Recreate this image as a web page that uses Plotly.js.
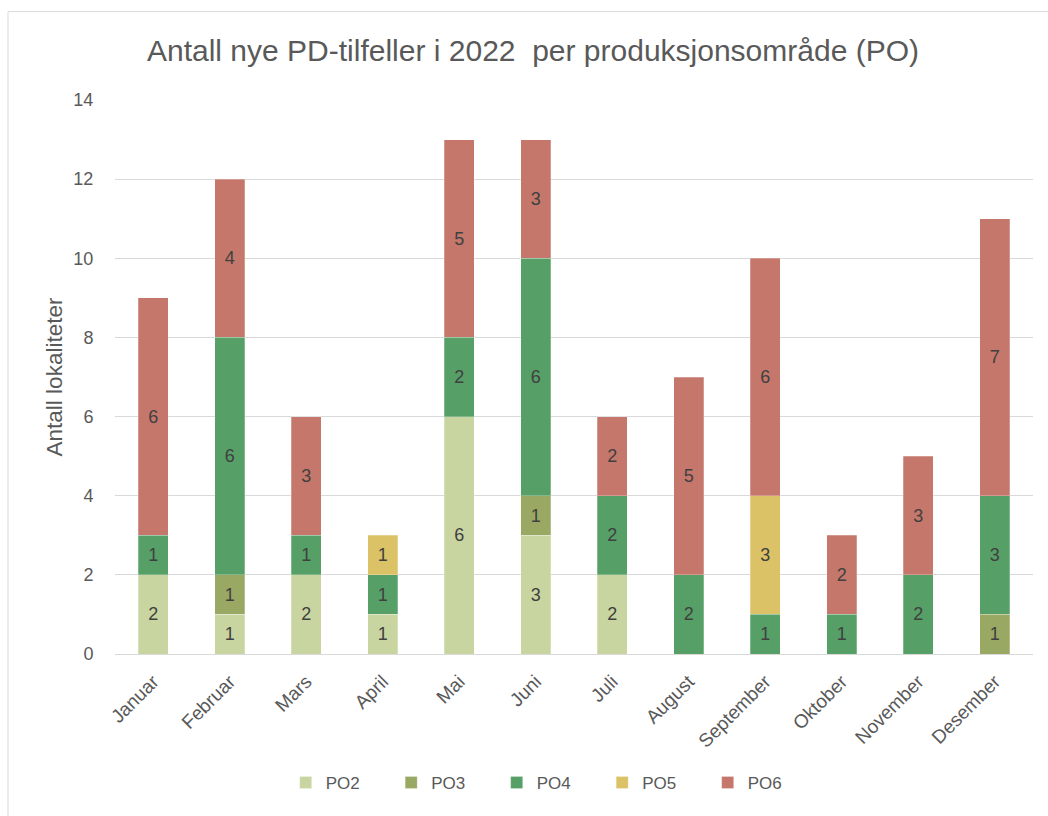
<!DOCTYPE html>
<html>
<head>
<meta charset="utf-8">
<script src="https://cdn.plot.ly/plotly-3.0.1.min.js"></script>
<style>
html,body{margin:0;padding:0;background:#fff;overflow:hidden;}
#chart{width:1048px;height:816px;}
</style>
</head>
<body>
<div id="chart"></div>
<script>
const months = ["Januar","Februar","Mars","April","Mai","Juni","Juli","August","September","Oktober","November","Desember"];
const PO2 = [2,1,2,1,6,3,2,0,0,0,0,0];
const PO3 = [0,1,0,0,0,1,0,0,0,0,0,1];
const PO4 = [1,6,1,1,2,6,2,2,1,1,2,3];
const PO5 = [0,0,0,1,0,0,0,0,3,0,0,0];
const PO6 = [6,4,3,0,5,3,2,5,6,2,3,7];
const seriesNames = ["PO2","PO3","PO4","PO5","PO6"];
const seriesColors = ["#C8D5A0","#99A862","#569F66","#DCC266","#C5776B"];
const seriesData = [PO2,PO3,PO4,PO5,PO6];

const FONT = "Liberation Sans, Arial, sans-serif";

const traces = seriesData.map((vals, i) => ({
  type: "bar",
  name: seriesNames[i],
  x: months,
  y: vals.map(v => v === 0 ? null : v),
  text: vals.map(v => v === 0 ? "" : String(v)),
  textposition: "inside",
  insidetextanchor: "middle",
  textangle: 0,
  constraintext: "none",
  textfont: {family: FONT, size: 18, color: "#404040"},
  marker: {color: seriesColors[i], line: {color: "rgba(255,255,255,0.5)", width: 0.5}},
  hoverinfo: "name+y"
}));

const layout = {
  width: 1048,
  height: 816,
  barmode: "stack",
  bargap: 0.61,
  paper_bgcolor: "#ffffff",
  plot_bgcolor: "#ffffff",
  margin: {l: 115, r: 15, t: 99.5, b: 162, pad: 0},
  font: {family: FONT, color: "#595959"},
  title: {
    text: "Antall nye PD-tilfeller i 2022 \u00a0per produksjonsområde (PO)",
    font: {family: FONT, size: 30, color: "#595959"},
    xref: "container", x: 0.5086, xanchor: "center",
    yref: "container", y: 0.938, yanchor: "middle"
  },
  xaxis: {
    type: "category",
    tickangle: -45,
    tickfont: {family: FONT, size: 19, color: "#595959"},
    ticks: "outside", ticklen: 8, tickcolor: "rgba(0,0,0,0)",
    showline: true, linecolor: "#d9d9d9", linewidth: 1,
    showgrid: false, fixedrange: true
  },
  yaxis: {
    range: [0, 14],
    dtick: 2,
    tick0: 0,
    tickfont: {family: FONT, size: 18, color: "#595959"},
    ticks: "outside", ticklen: 17, tickcolor: "rgba(0,0,0,0)",
    showgrid: true, gridcolor: "#d9d9d9", gridwidth: 1,
    zeroline: true, zerolinecolor: "#d9d9d9", zerolinewidth: 1,
    showline: false,
    title: {text: "Antall lokaliteter", font: {family: FONT, size: 22.5, color: "#595959"}, standoff: 4},
    fixedrange: true
  },
  legend: {
    orientation: "h",
    xref: "container", yref: "container",
    x: 0.2726, xanchor: "left",
    y: 1 - 783/816, yanchor: "middle",
    entrywidth: 60.5, entrywidthmode: "pixels",
    font: {family: FONT, size: 17, color: "#595959"},
    itemwidth: 30,
    traceorder: "normal"
  },
  shapes: [{
    type: "rect", xref: "paper", yref: "paper",
    x0: -107/918, x1: 2, y0: -1, y1: (654-11)/554.5,
    line: {color: "#d9d9d9", width: 1}, fillcolor: "rgba(0,0,0,0)", layer: "below"
  }],
  showlegend: true
};

Plotly.newPlot("chart", traces, layout, {displayModeBar: false, staticPlot: true});
</script>
</body>
</html>
